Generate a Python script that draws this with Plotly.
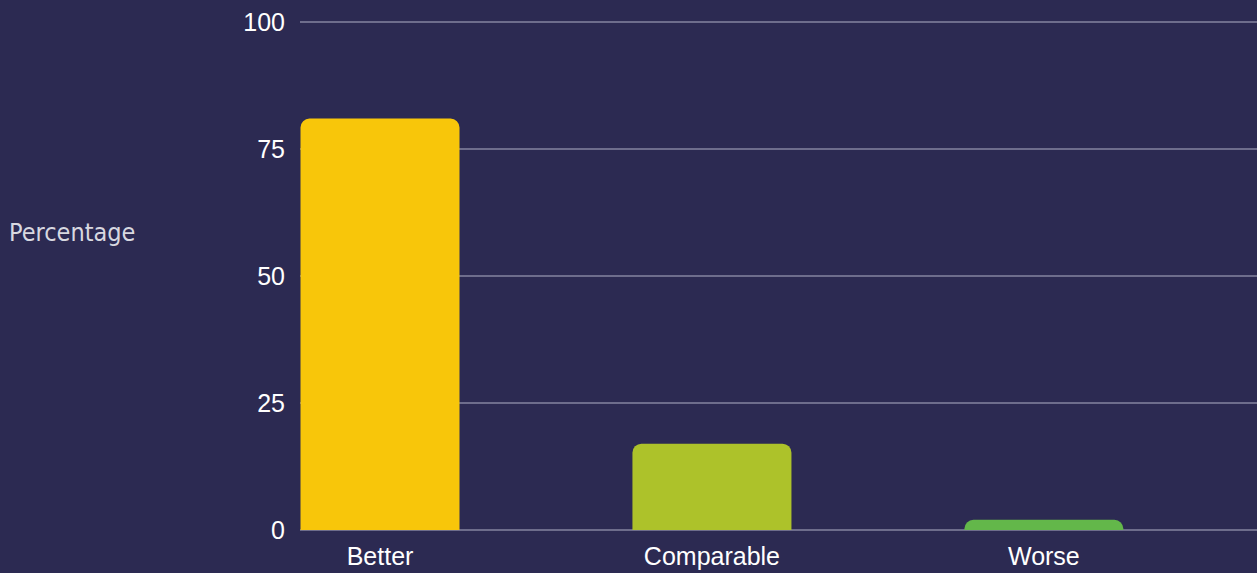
import plotly.graph_objects as go

categories = ["Better", "Comparable", "Worse"]
values = [81, 17, 2]
colors = ["#f8c60a", "#adc22a", "#63b74a"]
y_ticks = [0, 25, 50, 75, 100]

BG = "#2c2a52"
GRID = "#6e6d8c"

fig = go.Figure(
    go.Bar(
        x=list(range(len(categories))),
        y=values,
        marker=dict(color=colors, line=dict(width=0)),
        width=0.479,
        hoverinfo="skip",
    )
)

TOP = 18
BOTTOM_PX = 530
unit = (530 - 22) / 100.0
ymax = 100 + (22 - TOP) / unit

fig.update_layout(
    width=1257,
    height=573,
    paper_bgcolor=BG,
    plot_bgcolor=BG,
    margin=dict(l=300, r=0, t=TOP, b=573 - BOTTOM_PX),
    barcornerradius=9,
    showlegend=False,
    xaxis=dict(
        range=[-0.241, 2.642],
        tickmode="array",
        tickvals=list(range(len(categories))),
        ticktext=categories,
        showgrid=False,
        zeroline=False,
        showline=False,
        ticks="",
        tickfont=dict(family="Liberation Sans, Arial, sans-serif", size=25, color="#ffffff"),
        ticklabelstandoff=9,
    ),
    yaxis=dict(
        range=[0, ymax],
        tickmode="array",
        tickvals=y_ticks,
        showgrid=True,
        gridcolor=GRID,
        gridwidth=1.5,
        zeroline=True,
        zerolinecolor=GRID,
        zerolinewidth=1.5,
        showline=False,
        ticks="",
        tickfont=dict(family="Liberation Sans, Arial, sans-serif", size=25, color="#ffffff"),
        ticklabelstandoff=14,
    ),
    annotations=[
        dict(
            text="Percentage",
            xref="paper", yref="paper",
            x=-300 / 957 + 7 / 957, y=(BOTTOM_PX - 232) / (BOTTOM_PX - TOP),
            xanchor="left", yanchor="middle",
            showarrow=False,
            font=dict(family="DejaVu Sans Condensed, DejaVu Sans, sans-serif", size=25, color="#d8d8e0", weight=300),
        )
    ],
)

fig.write_html(
    "out.html",
    config={"displayModeBar": False},
    post_script="document.body.style.margin='0';document.body.style.background='%s';" % BG,
)
